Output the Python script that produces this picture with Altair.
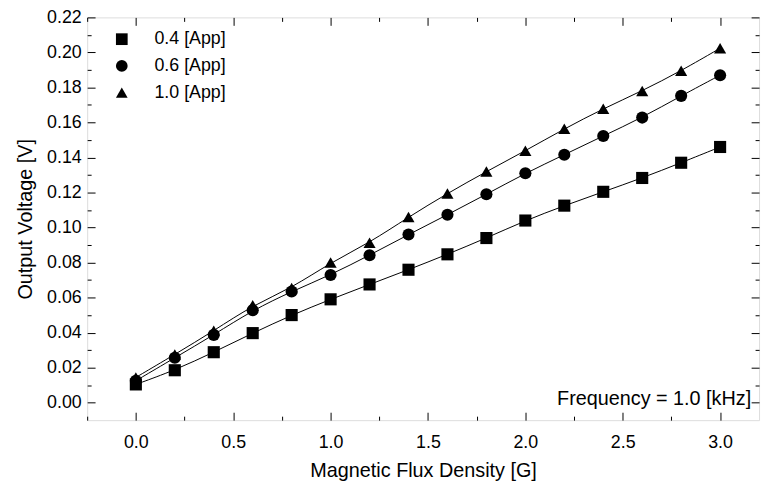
import altair as alt
import pandas as pd

x_vals = [0.0, 0.2, 0.4, 0.6, 0.8, 1.0, 1.2, 1.4, 1.6, 1.8, 2.0, 2.2, 2.4, 2.6, 2.8, 3.0]
series_names = ["0.4 [App]", "0.6 [App]", "1.0 [App]"]
v_04 = [0.0104, 0.0185, 0.0288, 0.0397, 0.0500, 0.0590, 0.0675, 0.0759, 0.0847, 0.0940, 0.1040, 0.1125, 0.1204, 0.1283, 0.1370, 0.1460]
v_06 = [0.0125, 0.0256, 0.0387, 0.0528, 0.0635, 0.0729, 0.0842, 0.0960, 0.1073, 0.1190, 0.1310, 0.1416, 0.1523, 0.1628, 0.1752, 0.1870]
v_10 = [0.0144, 0.0275, 0.0410, 0.0556, 0.0654, 0.0800, 0.0913, 0.1060, 0.1195, 0.1320, 0.1438, 0.1564, 0.1679, 0.1780, 0.1895, 0.2024]
shapes = ["square", "circle", "triangle-up"]

x_ticks = [-0.25, 0.0, 0.25, 0.5, 0.75, 1.0, 1.25, 1.5, 1.75, 2.0, 2.25, 2.5, 2.75, 3.0]
y_ticks = [round(0.01 * i, 2) for i in range(0, 23)]

rows = []
for name, vals in zip(series_names, [v_04, v_06, v_10]):
    for xv, yv in zip(x_vals, vals):
        rows.append({"B": xv, "V": yv, "series": name})
df = pd.DataFrame(rows)

FONT = "Liberation Sans"
x_major = "round(datum.value*4) % 2 == 0"
y_major = "round(datum.value*100) % 2 == 0"

xscale = alt.Scale(domain=[-0.25, 3.2], nice=False, zero=False)
yscale = alt.Scale(domain=[-0.01, 0.22], nice=False, zero=False)

x_axis = alt.Axis(
    values=x_ticks, title="Magnetic Flux Density [G]",
    labelExpr=f"{x_major} ? format(datum.value, '.1f') : ''",
    tickSize={"expr": f"{x_major} ? -8 : -4"}, domain=False, grid=False,
    tickColor="black", labelColor="black", labelFont=FONT, labelFontSize=18,
    labelPadding=22, titleFont=FONT, titleFontSize=20, titleFontWeight="normal",
    titleColor="black", titlePadding=9, labelFlush=False,
)
y_axis = alt.Axis(
    values=y_ticks, title="Output Voltage [V]",
    labelExpr=f"{y_major} ? format(datum.value, '.2f') : ''",
    tickSize={"expr": f"{y_major} ? -8 : -4"}, domain=False, grid=False,
    tickColor="black", labelColor="black", labelFont=FONT, labelFontSize=18,
    labelPadding=14, titleFont=FONT, titleFontSize=20, titleFontWeight="normal",
    titleColor="black", titlePadding=11, labelFlush=False,
)
x_top = alt.Axis(values=x_ticks, orient="top", labels=False, title=None, domain=False, grid=False,
                 tickColor="black", tickSize={"expr": f"{x_major} ? -8 : -4"})
y_right = alt.Axis(values=y_ticks, orient="right", labels=False, title=None, domain=False, grid=False,
                   tickColor="black", tickSize={"expr": f"{y_major} ? -8 : -4"})

base = alt.Chart(df)

lines = base.mark_line(color="black", strokeWidth=1, interpolate="basis").encode(
    x=alt.X("B:Q", scale=xscale, axis=x_axis),
    y=alt.Y("V:Q", scale=yscale, axis=y_axis),
    detail="series:N",
)

points = base.mark_point(filled=True, color="black", opacity=1, size=150).encode(
    x=alt.X("B:Q", scale=xscale, axis=None),
    y=alt.Y("V:Q", scale=yscale, axis=None),
    shape=alt.Shape(
        "series:N",
        scale=alt.Scale(domain=series_names, range=shapes),
        legend=alt.Legend(
            title=None, orient="none", legendX=26, legendY=13, padding=0,
            labelFont=FONT, labelFontSize=18, labelColor="black", labelOffset=24,
            symbolSize=140, symbolFillColor="black", symbolStrokeColor="black",
            symbolStrokeWidth=0, rowPadding=9,
        ),
    ),
)

frame = base.mark_point(opacity=0).encode(
    x=alt.X("B:Q", scale=xscale, axis=x_top),
    y=alt.Y("V:Q", scale=yscale, axis=y_right),
)

note = alt.Chart(pd.DataFrame({"t": ["Frequency = 1.0 [kHz]"]})).mark_text(
    align="right", baseline="alphabetic", font=FONT, fontSize=20, color="black"
).encode(x=alt.value(671), y=alt.value(392), text="t:N")

chart = alt.layer(lines, points, frame, note).resolve_axis(
    x="independent", y="independent"
).properties(
    width=679, height=407,
    autosize=alt.AutoSizeParams(type="none"),
    padding={"left": 80, "top": 7, "right": 5, "bottom": 60},
).configure_view(stroke="black", strokeWidth=1).configure(background="white")

chart.save("out.html", embed_options={"renderer": "svg", "actions": False})
